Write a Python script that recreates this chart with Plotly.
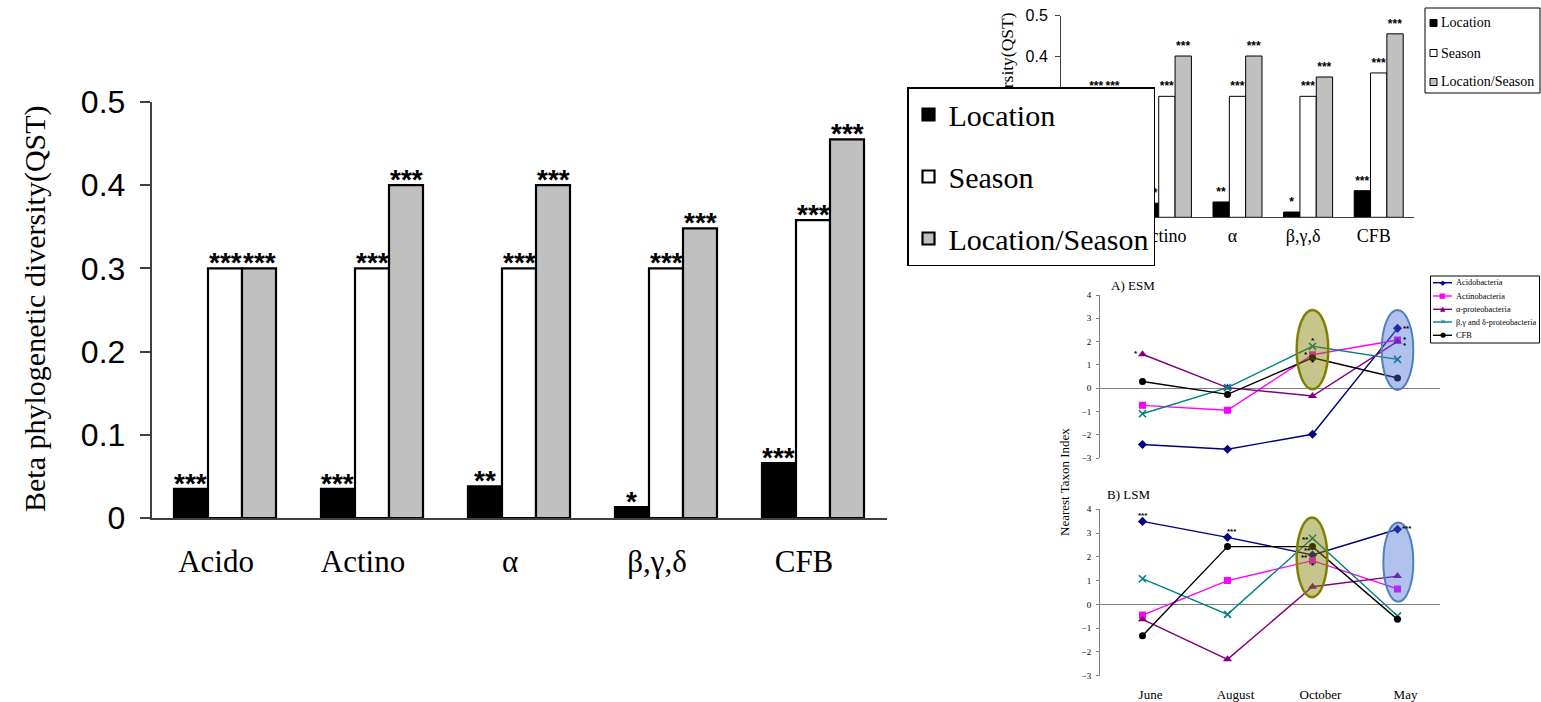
import plotly.graph_objects as go

# ---- Beta phylogenetic diversity (QST) by taxon ----
taxa = ["Acido", "Actino", "α", "β,γ,δ", "CFB"]
qst_location = [0.035, 0.035, 0.038, 0.013, 0.066]
qst_season = [0.300, 0.300, 0.300, 0.300, 0.358]
qst_loc_season = [0.300, 0.400, 0.400, 0.348, 0.455]
sig_location = ["***", "***", "**", "*", "***"]
sig_season = ["***", "***", "***", "***", "***"]
sig_loc_season = ["***", "***", "***", "***", "***"]
factor_names = ["Location", "Season", "Location/Season"]

# ---- Nearest Taxon Index by sampling month ----
months = ["June", "August", "October", "May"]
series_names = ["Acidobacteria", "Actinobacteria", "α-proteobacteria",
                "β,γ and δ-proteobacteria", "CFB"]
esm_acido = [-2.41, -2.61, -1.97, 2.57]
esm_actino = [-0.73, -0.94, 1.44, 2.07]
esm_alpha = [1.46, 0.03, -0.33, 2.01]
esm_bgd = [-1.09, 0.03, 1.80, 1.24]
esm_cfb = [0.29, -0.26, 1.31, 0.44]
lsm_acido = [3.49, 2.82, 2.08, 3.16]
lsm_actino = [-0.45, 1.00, 1.84, 0.65]
lsm_alpha = [-0.63, -2.31, 0.74, 1.19]
lsm_bgd = [1.08, -0.42, 2.78, -0.49]
lsm_cfb = [-1.32, 2.43, 2.43, -0.63]

W, H = 1541, 702


def fx(px):
    return px / W


def fy(py):
    return 1 - py / H


SERIF = "Liberation Serif"
SANS = "Liberation Sans"

BARGAP = 0.306
bar_fills = ["#000000", "#ffffff", "#c0c0c0"]
bar_values = [qst_location, qst_season, qst_loc_season]
bar_sigs = [sig_location, sig_season, sig_loc_season]

line_colors = ["#000080", "#ff00ff", "#800080", "#008080", "#000000"]
line_symbols = ["diamond", "square", "triangle-up", "x-thin", "circle"]
legend_glyphs = ["◆", "■", "▲", "✕", "●"]
esm_series = [esm_acido, esm_actino, esm_alpha, esm_bgd, esm_cfb]
lsm_series = [lsm_acido, lsm_actino, lsm_alpha, lsm_bgd, lsm_cfb]

fig = go.Figure()

# large bar chart
for k in range(3):
    fig.add_trace(go.Bar(
        x=taxa, y=bar_values[k], name=factor_names[k],
        marker=dict(color=bar_fills[k], line=dict(color="black", width=2.2)),
        legendgroup=f"g{k}", legend="legend", showlegend=True,
        xaxis="x", yaxis="y", hoverinfo="skip",
    ))
# inset copy of the bar chart (its marks sit under the big legend)
for k in range(3):
    fig.add_trace(go.Bar(
        x=taxa, y=bar_values[k], name=factor_names[k],
        marker=dict(color=bar_fills[k], line=dict(color="black", width=1)),
        text=bar_sigs[k], textposition="outside", cliponaxis=False,
        constraintext="none",
        textfont=dict(family=SANS, size=12, color="black", weight="bold"),
        showlegend=False, xaxis="x2", yaxis="y2", hoverinfo="skip",
    ))

# line panels
for panel, (xa, ya) in zip([esm_series, lsm_series], [("x3", "y3"), ("x4", "y4")]):
    for s, vals in enumerate(panel):
        sym = line_symbols[s]
        mk = dict(symbol=sym, size=7 if sym != "triangle-up" else 8,
                  color=line_colors[s])
        if sym == "x-thin":
            mk["line"] = dict(color=line_colors[s], width=1.6)
        fig.add_trace(go.Scatter(
            x=months, y=vals, mode="lines+markers", name=series_names[s],
            line=dict(color=line_colors[s], width=1.4), marker=mk,
            showlegend=False, xaxis=xa, yaxis=ya, hoverinfo="skip",
        ))

axis_gray = "#404040"
layout = dict(
    template="none",
    width=W, height=H,
    margin=dict(l=0, r=0, t=0, b=0, autoexpand=False),
    paper_bgcolor="white", plot_bgcolor="rgba(0,0,0,0)",
    barmode="group", bargap=BARGAP, bargroupgap=0,
    showlegend=True,
    legend=dict(
        x=fx(907), xanchor="left", y=fy(87), yanchor="top",
        bgcolor="white", bordercolor="black", borderwidth=1.5,
        font=dict(family=SERIF, size=30, color="black"),
        tracegroupgap=20, traceorder="grouped",
    ),
    xaxis=dict(
        domain=[fx(151.5), fx(886.5)], anchor="y", type="category",
        automargin=False,
        showline=True, linecolor=axis_gray, linewidth=1.5, ticks="",
        tickfont=dict(family=SERIF, size=31, color="black"),
        ticklabelstandoff=15, ticklabelshift=-9, showgrid=False,
    ),
    yaxis=dict(
        domain=[fy(518), fy(102)], anchor="x", range=[0, 0.5],
        automargin=False,
        tickvals=[0, 0.1, 0.2, 0.3, 0.4, 0.5],
        ticktext=["0", "0.1", "0.2", "0.3", "0.4", "0.5"],
        showline=True, linecolor=axis_gray, linewidth=1.5,
        ticks="outside", ticklen=10, tickwidth=1.5, tickcolor=axis_gray,
        tickfont=dict(family=SANS, size=32, color="black"),
        ticklabelstandoff=8, showgrid=False, zeroline=False,
    ),
    xaxis2=dict(
        domain=[fx(1061), fx(1414)], anchor="y2", type="category",
        automargin=False,
        showline=True, linecolor=axis_gray, linewidth=1, ticks="",
        tickfont=dict(family=SERIF, size=18, color="black"),
        ticklabelstandoff=2, ticklabelshift=-5, showgrid=False,
    ),
    yaxis2=dict(
        domain=[fy(217.3), fy(15.7)], anchor="x2", range=[0, 0.5],
        automargin=False,
        tickvals=[0, 0.1, 0.2, 0.3, 0.4, 0.5],
        ticktext=["0", "0.1", "0.2", "0.3", "0.4", "0.5"],
        showline=True, linecolor=axis_gray, linewidth=1,
        ticks="outside", ticklen=5, tickwidth=1, tickcolor=axis_gray,
        tickfont=dict(family=SANS, size=16, color="black"),
        ticklabelstandoff=4, showgrid=False, zeroline=False,
    ),
)

for xa, ya, ydom, show_lbl in [
        ("xaxis3", "yaxis3", [fy(458.3), fy(295)], False),
        ("xaxis4", "yaxis4", [fy(675.7), fy(509.3)], True)]:
    xn, yn = xa.replace("axis", ""), ya.replace("axis", "")
    layout[xa] = dict(
        domain=[fx(1100), fx(1440)], anchor=yn, type="category",
        automargin=False,
        range=[-0.5, 3.5], showline=False, ticks="", showgrid=False,
        showticklabels=show_lbl,
        tickfont=dict(family=SERIF, size=13, color="black"),
        ticklabelstandoff=9, ticklabelshift=8,
    )
    layout[ya] = dict(
        domain=ydom, anchor=xn, range=[-3, 4], tickvals=list(range(-3, 5)),
        automargin=False,
        showline=True, linecolor="#808080", linewidth=1,
        ticks="outside", ticklen=3, tickcolor="#808080",
        tickfont=dict(family=SERIF, size=9, color="black"),
        ticklabelstandoff=3, showgrid=False,
        zeroline=True, zerolinecolor="#808080", zerolinewidth=1,
    )

fig.update_layout(**layout)

annotations = []
shapes = []


def note(text, px, py, size, family=SERIF, angle=0, xanchor="center", **kw):
    annotations.append(dict(
        text=text, x=fx(px), y=fy(py), xref="paper", yref="paper",
        xanchor=xanchor, yanchor="middle", textangle=angle, showarrow=False,
        font=dict(family=family, size=size, color=kw.pop("color", "black")), **kw))


# significance stars resting on the large bars
bar_w = (1 - BARGAP) / 3
for k in range(3):
    for i, v in enumerate(bar_values[k]):
        annotations.append(dict(
            text=bar_sigs[k][i], x=i + (k - 1) * bar_w, y=v, xref="x", yref="y",
            xanchor="center", yanchor="bottom", yshift=-12, showarrow=False,
            font=dict(family=SANS, size=28, color="black", weight="bold")))

# axis titles and panel labels
note("Beta phylogenetic diversity(QST)", 35, 309, 30, angle=-90)
note("Nearest Taxon Index", 1064, 482, 13, angle=-90)
note("A) ESM", 1109, 285, 13, xanchor="left")
note("B) LSM", 1105, 494, 13, xanchor="left")

# inset y-axis title: a shape label, so the big legend box can sit on top of it
shapes.append(dict(
    type="rect", xref="paper", yref="paper",
    x0=fx(994), x1=fx(1016), y0=fy(259), y1=fy(3),
    line=dict(width=0), fillcolor="rgba(0,0,0,0)", layer="above",
    label=dict(text="Beta phylogenetic diversity(QST)", textangle=-90,
               textposition="middle center",
               font=dict(family=SERIF, size=17.5, color="black"))))

# highlighted months
olive_fill, olive_line = "rgba(128,128,0,0.45)", "#808000"
blue_fill, blue_line = "rgba(70,110,215,0.42)", "#4f81bd"
for xa, ya, (ox, oy), (bx, by) in [
        ("x3", "y3", ((1.814, 2.186), (-0.04, 3.36)), ((2.814, 3.186), (-0.07, 3.36))),
        ("x4", "y4", ((1.814, 2.174), (0.30, 3.65)), ((2.833, 3.186), (0.11, 3.44)))]:
    shapes.append(dict(type="circle", xref=xa, yref=ya, x0=ox[0], x1=ox[1],
                       y0=oy[0], y1=oy[1], fillcolor=olive_fill,
                       line=dict(color=olive_line, width=2.5), layer="above"))
    shapes.append(dict(type="circle", xref=xa, yref=ya, x0=bx[0], x1=bx[1],
                       y0=by[0], y1=by[1], fillcolor=blue_fill,
                       line=dict(color=blue_line, width=2), layer="above"))

# significance marks on the line panels: (axes, month, series, text, dx, dy)
line_marks = [
    ("x3", "y3", 0, 2, "*", -7, 1),
    ("x3", "y3", 2, 3, "*", 0, 6),
    ("x3", "y3", 2, 1, "*", -7, 0),
    ("x3", "y3", 2, 4, "*", 0, -5),
    ("x3", "y3", 3, 0, "**", 9, 0),
    ("x3", "y3", 3, 2, "*", 7, 2),
    ("x3", "y3", 3, 2, "*", 7, -4),
    ("x4", "y4", 0, 0, "***", 0, 6),
    ("x4", "y4", 1, 0, "***", 4, 6),
    ("x4", "y4", 2, 3, "**", -7, -1),
    ("x4", "y4", 2, 4, "**", -5, -4),
    ("x4", "y4", 2, 1, "**", -8, 3),
    ("x4", "y4", 2, 1, "*", 0, -5),
    ("x4", "y4", 3, 0, "***", 9, 1),
]
for xa, ya, m, s, txt, dx, dy in line_marks:
    vals = (esm_series if xa == "x3" else lsm_series)[s]
    annotations.append(dict(
        text=txt, x=m, y=vals[m], xref=xa, yref=ya, showarrow=False,
        xanchor="center", yanchor="middle", xshift=dx, yshift=dy,
        font=dict(family=SANS, size=8, color="black", weight="bold")))

# legend of the inset bar chart
shapes.append(dict(type="rect", xref="paper", yref="paper",
                   x0=fx(1425), x1=fx(1540), y0=fy(93), y1=fy(8),
                   line=dict(color="black", width=1), fillcolor="white"))
for k, row in enumerate([23, 53, 82]):
    shapes.append(dict(type="rect", xref="paper", yref="paper",
                       x0=fx(1430), x1=fx(1437), y0=fy(row + 3.5), y1=fy(row - 3.5),
                       line=dict(color="black", width=1), fillcolor=bar_fills[k]))
    note(factor_names[k], 1439, row, 14, xanchor="left")

# legend of the line panels
shapes.append(dict(type="rect", xref="paper", yref="paper",
                   x0=fx(1430.5), x1=fx(1539.5), y0=fy(343), y1=fy(276),
                   line=dict(color="black", width=1), fillcolor="white"))
for s, row in enumerate([282.7, 296, 309.3, 322, 335.3]):
    shapes.append(dict(type="line", xref="paper", yref="paper",
                       x0=fx(1433), x1=fx(1452), y0=fy(row), y1=fy(row),
                       line=dict(color=line_colors[s], width=1.4)))
    note(legend_glyphs[s], 1442.5, row, 7, family="DejaVu Sans", color=line_colors[s])
    note(series_names[s], 1453.5, row, 8.3, xanchor="left")

fig.update_layout(annotations=annotations, shapes=shapes)

fig.write_html("out.html")
